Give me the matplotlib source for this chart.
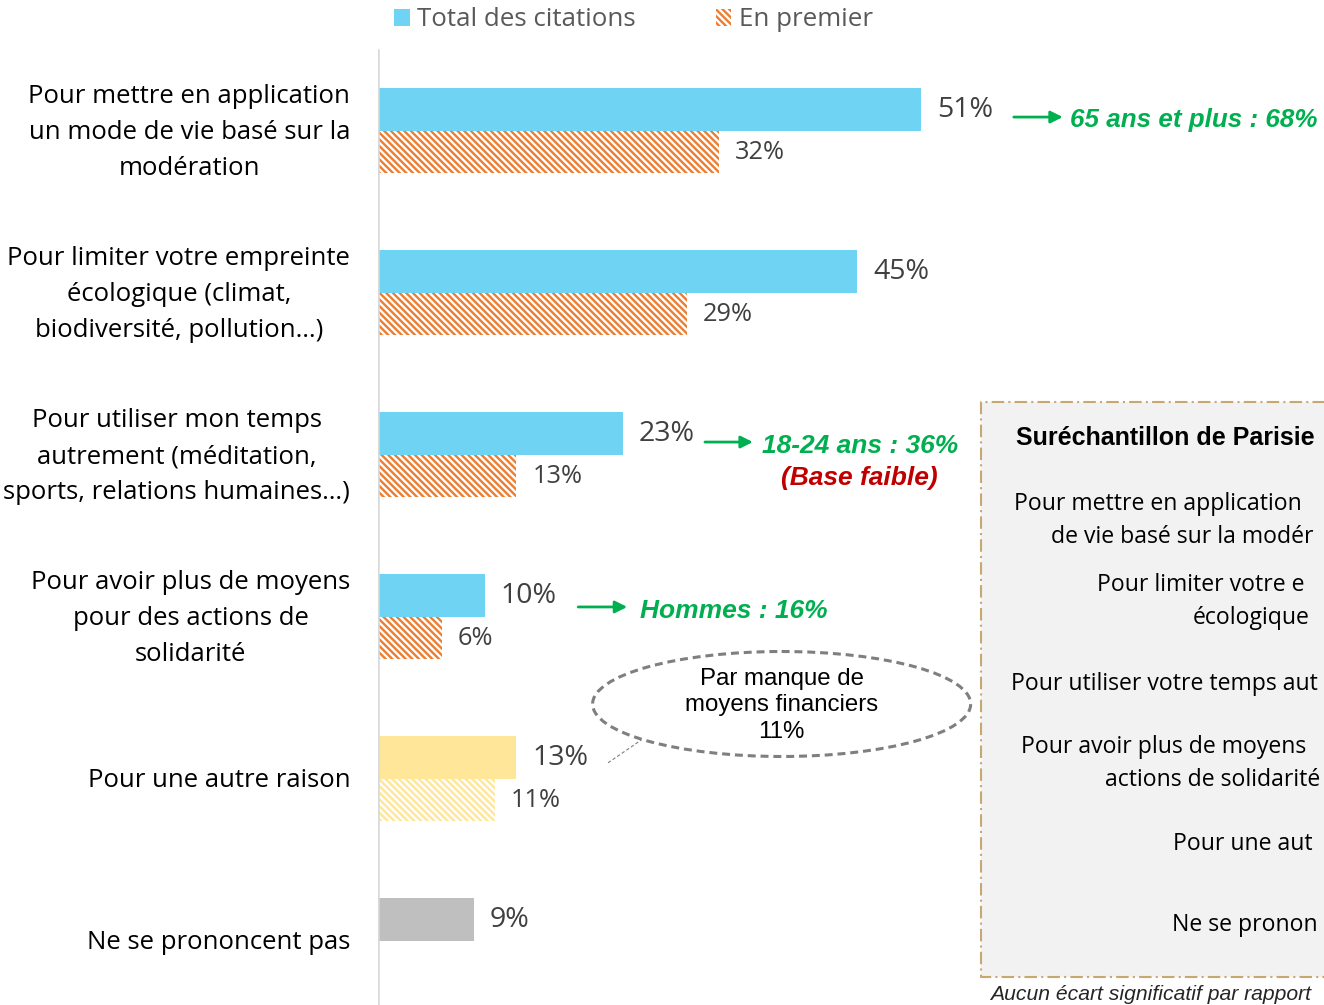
import matplotlib.pyplot as plt
import numpy as np
from matplotlib.patches import Patch, Ellipse, Rectangle
from matplotlib.lines import Line2D

categories = ['Pour mettre en application\nun mode de vie basé sur la\nmodération',
              'Pour limiter votre empreinte\nécologique (climat,\nbiodiversité, pollution…)',
              'Pour utiliser mon temps\nautrement (méditation,\nsports, relations humaines…)',
              'Pour avoir plus de moyens\npour des actions de\nsolidarité',
              'Pour une autre raison',
              'Ne se prononcent pas']
total = [51, 45, 23, 10, 13, 9]
premier = [32, 29, 13, 6, 11]
legend_labels = ['Total des citations', 'En premier']

blue = '#6fd3f3'
orange = '#ed7d31'
yellow = '#ffe699'
grey = '#bfbfbf'
green = '#00b050'
total_colors = [blue, blue, blue, blue, yellow, grey]
premier_colors = [orange, orange, orange, orange, yellow]
hatch = '\\' * 5

plt.rcParams['font.family'] = ['Open Sans', 'DejaVu Sans']
plt.rcParams['hatch.linewidth'] = 1.7
arial = ['Liberation Sans', 'DejaVu Sans']

W, H = 1324, 1005
fig = plt.figure(figsize=(W / 100, H / 100), dpi=100)
x0 = 378
ax = fig.add_axes([x0 / W, 0, 1 - x0 / W, 1])
ppu = 10.65      # pixels per percent
gap = 162        # pixels between groups
ax.set_xlim(0, (W - x0) / ppu)
ax.set_ylim((H - 131) / gap, -131 / gap)

y = np.arange(len(categories))
hb = 43 / gap
b1 = ax.barh(y - hb / 2, total, height=hb, color=total_colors)
b2 = ax.barh(y[:len(premier)] + 0.98 * hb / 2, premier, height=0.98 * hb,
             color='white', edgecolor=premier_colors, hatch=hatch, linewidth=0)
ax.bar_label(b1, fmt='{:.0f}%', padding=11.5, fontsize=20.5, color='#404040')
ax.bar_label(b2, fmt='{:.0f}%', padding=11.5, fontsize=18.3, color='#404040')

ax.set_yticks(y + 0.01)
ax.set_yticklabels(categories, fontsize=18.5, color='black', linespacing=1.58)
for lab in ax.get_yticklabels():
    lab.set_multialignment('center')
    lab.set_verticalalignment('center')
ax.tick_params(axis='y', length=0, pad=20)
ax.set_xticks([])
for s in ax.spines.values():
    s.set_visible(False)
ax.axvline(0, ymin=0, ymax=1 - 50 / H, color='#d9d9d9', lw=1.8)

# legend
handles = [Patch(facecolor=blue),
           Patch(facecolor='white', edgecolor=orange, hatch=hatch, linewidth=0)]
fig.legend(handles, legend_labels, loc='center left', bbox_to_anchor=(394 / W, 1 - 20 / H),
           ncol=2, frameon=False, fontsize=18.6, labelcolor='#595959',
           handlelength=0.6, handleheight=0.6, handletextpad=0.3,
           columnspacing=3.1, borderpad=0, borderaxespad=0)

# green call-outs
arrow = dict(arrowstyle='-|>', color=green, lw=2, mutation_scale=18, shrinkA=0, shrinkB=0)
bold_it = dict(family=arial, fontsize=19, fontweight='bold', fontstyle='italic', va='center')
ax.annotate('', xy=(64.3, -0.086), xytext=(59.7, -0.086), arrowprops=arrow)
ax.text(65.0, -0.068, '65 ans et plus : 68%', color=green, ha='left',
        **dict(bold_it, fontsize=18.7))
ax.annotate('', xy=(35.2, 1.92), xytext=(30.7, 1.92), arrowprops=arrow)
ax.text(36.1, 1.944, '18-24 ans : 36%', color=green, ha='left', **bold_it)
ax.text(45.2, 2.142, '(Base faible)', color='#c00000', ha='center', **bold_it)
ax.annotate('', xy=(23.4, 2.938), xytext=(18.8, 2.938), arrowprops=arrow)
ax.text(24.6, 2.963, 'Hommes : 16%', color=green, ha='left', **bold_it)

# dashed bubble
ax.add_patch(Ellipse((37.9, 3.537), 35.5, 0.648, fill=False, edgecolor='#7f7f7f',
                     lw=2.2, linestyle=(0, (2.6, 1.6))))
ax.text(37.9, 3.545, 'Par manque de\nmoyens financiers\n11%', ha='center', va='center',
        fontsize=17.3, family=arial, linespacing=1.26)
ax.plot([21.6, 24.7], [3.90, 3.76], color='#7f7f7f', lw=0.8, linestyle=(0, (3, 2)))

# right panel (cut off at the image edge, only the visible part of each line)
bl, bt, bb = 981 / W, 1 - 402 / H, 1 - 977 / H
fig.add_artist(Rectangle((bl, bb), 1, bt - bb, transform=fig.transFigure,
                         facecolor='#f2f2f2', edgecolor='none'))
fig.add_artist(Line2D([1.05, bl, bl, 1.05], [bt, bt, bb, bb], transform=fig.transFigure,
                      color='#c8a870', lw=1.5, linestyle=(0, (6, 2, 1, 2))))
fig.text(1016 / W, 1 - 438 / H, 'Suréchantillon de Parisie', fontsize=18, fontweight='bold',
         family=arial, va='center', ha='left')
panel_lines = [('Pour mettre en application', 1014, 504),
               ('de vie basé sur la modér', 1051, 537),
               ('Pour limiter votre e', 1097, 585),
               ('écologique', 1193, 618),
               ('Pour utiliser votre temps aut', 1011, 684),
               ('Pour avoir plus de moyens', 1021, 747),
               ('actions de solidarité', 1105, 780),
               ('Pour une aut', 1173, 844),
               ('Ne se pronon', 1172, 925)]
for txt, px, py in panel_lines:
    fig.text(px / W, 1 - py / H, txt, fontsize=16.6, va='center', ha='left')
fig.text(990 / W, 1 - 994 / H, "Aucun écart significatif par rapport",
         fontsize=15.2, fontstyle='italic', color='#262626',
         family=arial, va='center', ha='left')

fig.savefig('out.png', dpi=100)
